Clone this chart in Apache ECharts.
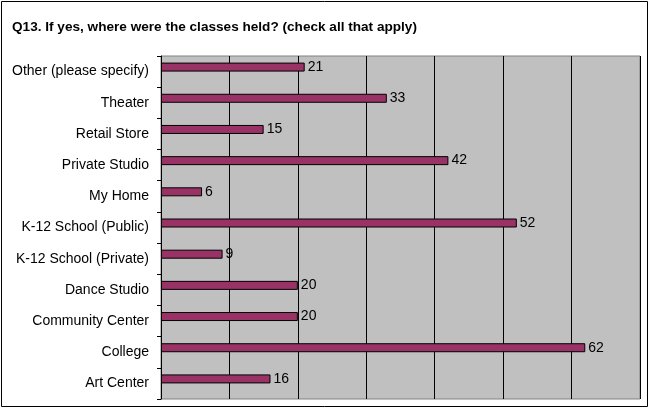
<!DOCTYPE html>
<html>
<head>
<meta charset="utf-8">
<script src="https://cdn.jsdelivr.net/npm/echarts@6/dist/echarts.min.js"></script>
<style>
  html, body { margin: 0; padding: 0; background: #fff; }
  #chart { width: 650px; height: 408px; }
</style>
</head>
<body>
<div id="chart"></div>
<script>
// categories listed bottom to top, as the axis draws them
var categories = ['Art Center', 'College', 'Community Center', 'Dance Studio',
  'K-12 School (Private)', 'K-12 School (Public)', 'My Home', 'Private Studio',
  'Retail Store', 'Theater', 'Other (please specify)'];
var counts = [16, 62, 20, 20, 9, 52, 6, 42, 15, 33, 21];
var emptySeries = [];

window.onload = function () {
    var myChart = echarts.init(document.getElementById('chart'));

    var option = {
        animation: false,
        title: {
            text: 'Q13. If yes, where were the classes held? (check all that apply)',
            left: 7,
            top: 15,
            textStyle: { fontFamily: 'Liberation Sans', fontSize: 13.6, fontWeight: 'bold', color: '#000' }
        },
        graphic: [{
            type: 'rect',
            shape: { x: 1.5, y: 1.5, width: 646, height: 405 },
            style: { fill: 'none', stroke: '#000', lineWidth: 1 },
            silent: true
        }],
        grid: {
            left: 161, right: 10, top: 56, bottom: 9,
            show: true,
            backgroundColor: '#C0C0C0',
            borderColor: '#808080',
            borderWidth: 1
        },
        xAxis: {
            type: 'value',
            min: 0, max: 70, interval: 10,
            axisLabel: { show: false },
            axisLine: { show: false },
            axisTick: { show: false },
            splitLine: { show: true, lineStyle: { color: '#000', width: 1 } }
        },
        yAxis: {
            type: 'category',
            data: categories,
            axisLine: { show: true, lineStyle: { color: '#000', width: 1 } },
            axisTick: { show: true, length: 4, lineStyle: { color: '#000' } },
            axisLabel: { fontFamily: 'Liberation Sans', fontSize: 14, color: '#000', margin: 12 }
        },
        series: [{
            type: 'bar',
            data: counts,
            barWidth: 9,
            barGap: '0%',
            itemStyle: { color: '#993366', borderColor: '#000', borderWidth: 1 },
            label: {
                show: true, position: 'right', distance: 3,
                fontFamily: 'Liberation Sans', fontSize: 14, color: '#000'
            }
        }, {
            type: 'bar',
            data: emptySeries,
            barWidth: 9
        }]
    };

    myChart.setOption(option);
};
</script>
</body>
</html>
